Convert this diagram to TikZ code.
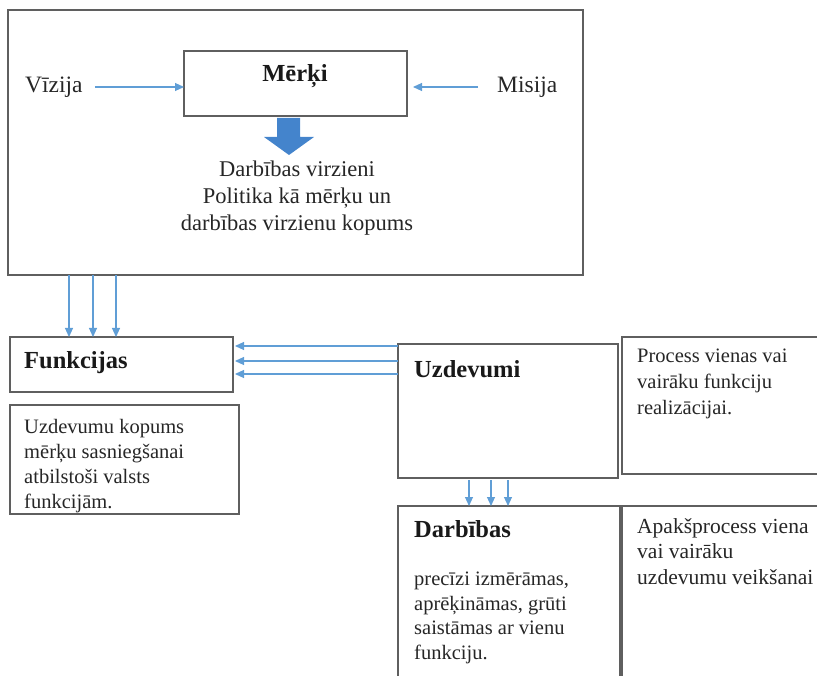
\documentclass[tikz,border=0pt]{standalone}
\usepackage{fontspec}
\setmainfont{Liberation Serif}
\usetikzlibrary{arrows.meta}
\definecolor{arr}{RGB}{96,158,214}
\definecolor{bigarr}{RGB}{68,132,204}
\definecolor{bord}{RGB}{95,95,95}
\begin{document}
\begin{tikzpicture}[x=1pt,y=-1pt,
  box/.style={draw=bord, line width=1.8pt, inner sep=0pt, outer sep=0pt, anchor=north west},
  conn/.style={draw=arr, line width=1.1pt, -{Triangle[length=9pt,width=8pt]}},
  desc/.style={font=\fontsize{20.5}{25}\selectfont, inner sep=0pt, text=black!85, anchor=north west, align=left},
  ttl/.style={font=\fontsize{24.5}{28}\selectfont\bfseries, inner sep=0pt, text=black!90}]
\useasboundingbox (0,0) rectangle (817,676);
% boxes
\node[box, minimum width=575, minimum height=265] (outer) at (8,10) {};
\node[box, minimum width=223, minimum height=65] (merki) at (184,51) {};
\node[box, minimum width=223, minimum height=55] (funk) at (10,337) {};
\node[box, minimum width=229, minimum height=109] (fdesc) at (10,405) {};
\node[box, minimum width=220, minimum height=134] (uzd) at (398,344) {};
\node[box, minimum width=210, minimum height=137] (udesc) at (622,337) {};
\node[box, minimum width=222, minimum height=190] (darb) at (398,506) {};
\node[box, minimum width=210, minimum height=190] (ddesc) at (622,506) {};
% texts
\node[ttl] (tmerki) at (295,76) {Mērķi};
\node[font=\fontsize{23.5}{28}\selectfont, inner sep=0pt, anchor=west, text=black!85] (vizija) at (25,87) {Vīzija};
\node[font=\fontsize{23.5}{28}\selectfont, inner sep=0pt, anchor=west, text=black!85] (misija) at (497,87) {Misija};
\node[font=\fontsize{22.5}{27}\selectfont, inner sep=0pt, text=black!85, align=center] (virz) at (297,198.5) {Darbības virzieni\\Politika kā mērķu un\\darbības virzienu kopums};
\node[ttl, anchor=west] (tfunk) at (24,363) {Funkcijas};
\node[desc] (tfdesc) at (24,419) {Uzdevumu kopums\\mērķu sasniegšanai\\atbilstoši valsts\\funkcijām.};
\node[ttl, anchor=west] (tuzd) at (414,369) {Uzdevumi};
\node[desc, font=\fontsize{20.5}{26}\selectfont] (tudesc) at (637,349) {Process vienas vai\\vairāku funkciju\\realizācijai.};
\node[ttl, anchor=west] (tdarb) at (414,529) {Darbības};
\node[desc, font=\fontsize{20.5}{24.5}\selectfont] (tddesc) at (414,572) {precīzi izmērāmas,\\aprēķināmas, grūti\\saistāmas ar vienu\\funkciju.};
\node[desc, font=\fontsize{21.5}{25.5}\selectfont] (tapak) at (637,518) {Apakšprocess viena\\vai vairāku\\uzdevumu veikšanai};
% connectors
\draw[conn] (vizija.east) ++(12,0) coordinate (v0) -- (merki.west |- v0);
\draw[conn] (misija.west) ++(-19,0) coordinate (m0) -- ([xshift=6]merki.east |- m0);
\foreach \x in {69,93,116}
  \draw[conn] (outer.south -| \x,0) -- (funk.north -| \x,0);
\foreach \y in {346,361,374}
  \draw[conn] (uzd.west |- 0,\y) -- ([xshift=2]funk.east |- 0,\y);
\foreach \x in {469,491,508}
  \draw[conn] ([yshift=-2]uzd.south -| \x,0) -- (darb.north -| \x,0);
% big block arrow
\fill[bigarr] (277,118) coordinate (b0) -- (300,118) -- (300,137) -- (314,137)
  -- (289,155) coordinate (b1) -- (264,137) -- (277,137) -- cycle;
\end{tikzpicture}
\end{document}
